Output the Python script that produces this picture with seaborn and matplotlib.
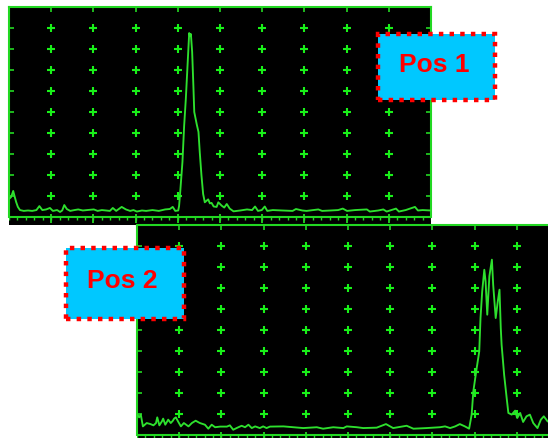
import numpy as np
import matplotlib
matplotlib.use("Agg")
import matplotlib.pyplot as plt
import matplotlib.patches as patches
import seaborn as sns
import pandas as pd

# A-scan traces: x = % of screen width, y = % of screen height
pos1_x = [0.0, 0.5, 1.0, 1.3, 1.7, 2.1, 2.6, 3.5, 4.5, 5.5,
          6.5, 7.2, 7.9, 8.8, 9.7, 10.4, 11.4, 12.1, 12.6, 13.1,
          13.7, 14.5, 15.5, 16.4, 17.5, 18.5, 20.1, 21.0, 22.0, 23.0,
          23.9, 24.6, 25.4, 26.7, 27.7, 28.7, 29.5, 30.3, 31.5, 32.5,
          34.0, 35.5, 37.0, 38.1, 38.8, 39.4, 40.1, 40.3, 40.5, 41.1,
          41.5, 41.9, 42.3, 42.7, 42.9, 43.1, 43.4, 43.7, 43.9, 44.5,
          44.9, 45.2, 45.6, 46.0, 46.4, 47.2, 47.6, 48.0, 48.5, 49.2,
          49.6, 50.4, 51.0, 51.6, 52.3, 53.2, 54.8, 56.4, 57.6, 58.3,
          59.0, 59.9, 60.6, 61.2, 62.5, 64.8, 67.2, 68.0, 69.5, 70.5,
          73.3, 74.2, 76.2, 78.0, 79.1, 80.1, 82.0, 84.8, 85.5, 87.5,
          88.7, 89.5, 91.7, 92.4, 94.0, 96.2, 96.9, 98.0, 100.0]
pos1_y = [8.6, 9.5, 12.4, 10.0, 7.1, 4.8, 3.3, 2.9, 3.1, 2.9,
          3.3, 5.2, 3.3, 3.6, 4.3, 2.9, 3.3, 2.4, 3.1, 5.7,
          3.8, 2.9, 3.3, 3.6, 3.1, 3.3, 3.6, 2.9, 3.3, 3.1,
          2.9, 4.3, 2.9, 4.8, 3.6, 2.9, 3.3, 2.6, 3.1, 2.9,
          3.3, 2.9, 3.6, 3.8, 4.8, 2.9, 3.1, 5.2, 10.0, 26.2,
          43.3, 56.2, 71.9, 87.6, 86.2, 87.1, 78.6, 62.0, 50.0, 44.0,
          40.5, 31.0, 20.0, 11.0, 7.0, 8.4, 6.5, 6.7, 5.0, 4.8,
          7.0, 5.4, 4.5, 6.2, 4.0, 2.7, 3.1, 3.6, 3.3, 5.0,
          2.9, 3.3, 5.0, 2.9, 3.3, 3.1, 2.9, 3.8, 3.1, 2.9,
          3.6, 2.9, 3.1, 3.3, 4.0, 2.9, 3.3, 3.6, 2.6, 3.1,
          3.6, 2.6, 4.0, 2.6, 3.3, 4.8, 3.1, 3.3, 3.1]

pos2_x = [0.1, 0.5, 0.9, 1.4, 2.3, 3.2, 3.9, 4.5, 4.8, 5.3,
          5.9, 6.2, 6.7, 7.4, 8.0, 8.5, 8.8, 9.2, 9.8, 10.4,
          11.1, 12.2, 13.0, 13.9, 14.9, 16.1, 16.9, 17.7, 18.5, 19.7,
          21.3, 22.0, 22.8, 23.6, 24.8, 25.6, 26.4, 27.2, 28.0, 29.1,
          29.9, 30.7, 31.5, 34.7, 39.4, 42.6, 44.1, 46.5, 48.9, 49.7,
          52.1, 53.6, 56.8, 59.0, 60.7, 63.9, 65.5, 68.6, 71.8, 73.0,
          74.2, 75.4, 76.5, 77.7, 78.7, 79.3, 79.7, 80.5, 81.1, 81.4,
          81.8, 82.3, 82.6, 83.0, 83.5, 84.1, 84.4, 85.0, 85.5, 85.9,
          86.2, 86.4, 87.0, 87.6, 88.0, 88.8, 89.6, 90.1, 90.8, 91.5,
          92.3, 93.1, 93.9, 94.9, 95.7, 96.4, 97.3, 98.5, 100.0]
pos2_y = [9.7, 8.4, 9.7, 4.1, 5.7, 5.2, 4.6, 5.7, 8.4, 4.6,
          6.5, 7.8, 4.9, 7.3, 5.7, 6.8, 7.8, 8.4, 6.2, 4.1,
          5.7, 4.1, 5.7, 6.8, 5.7, 4.9, 3.0, 4.9, 3.7, 4.0,
          4.0, 4.6, 2.5, 3.3, 4.4, 3.7, 4.9, 3.3, 4.1, 3.3,
          4.1, 3.3, 4.0, 4.1, 3.3, 3.7, 3.0, 3.7, 3.3, 4.1,
          3.7, 3.3, 3.5, 5.2, 3.3, 4.4, 3.0, 3.3, 3.7, 4.1,
          3.3, 4.1, 5.2, 4.1, 3.0, 9.7, 20.8, 31.9, 39.8, 55.7,
          68.4, 78.7, 73.2, 57.3, 75.6, 83.5, 71.6, 55.7, 63.7, 69.2,
          51.0, 43.0, 28.7, 17.6, 10.5, 9.7, 11.6, 8.1, 10.5, 6.2,
          8.9, 9.7, 5.7, 3.3, 7.3, 8.9, 6.5, 5.5, 5.0]

labels = ["Pos 1", "Pos 2"]

TRACE = "#2ee02e"
GRID = "#19f019"
FRAME = "#22d822"

sns.set_theme(style="white")
plt.rcParams['font.family'] = ['Liberation Sans', 'DejaVu Sans']

W, H = 548, 439
fig = plt.figure(figsize=(W / 100, H / 100), dpi=100)
fig.patch.set_facecolor("white")


def px_axes(left, top, w, h):
    return fig.add_axes([left / W, 1 - (top + h) / H, w / W, h / H])


def draw_screen(ax, x, y):
    ax.set_facecolor("black")
    # crosses on the interior graticule points
    grid = pd.DataFrame([(gx, gy) for gx in range(10, 100, 10) for gy in range(10, 100, 10)],
                        columns=["gx", "gy"])
    sns.scatterplot(data=grid, x="gx", y="gy", marker="+", s=34, color=GRID,
                    linewidth=1.5, ax=ax, legend=False, zorder=2)
    # ruler under the screen
    ax.axhline(0, color=FRAME, lw=1.5, zorder=3)
    ax.vlines(np.arange(0, 101, 2), -1.4, 0, color=FRAME, lw=1.0, zorder=3)
    ax.vlines(np.arange(10, 100, 10), -3.0, 1.5, color=FRAME, lw=1.3, zorder=3)
    sns.lineplot(x=x, y=y, ax=ax, color=TRACE, lw=1.35, estimator=None, sort=False, zorder=4)
    ax.set_xlim(0, 100)
    ax.set_ylim(-8 / 2.1, 100)
    ax.set_xticks(range(0, 101, 10))
    ax.set_yticks(range(0, 101, 10))
    ax.tick_params(direction="in", length=3.5, width=1.2, color=FRAME,
                   top=True, right=True, bottom=False, left=True,
                   labelleft=False, labelbottom=False)
    ax.set_xlabel("")
    ax.set_ylabel("")
    for side in ["left", "right", "top"]:
        ax.spines[side].set_color(FRAME)
        ax.spines[side].set_linewidth(1.5)
        ax.spines[side].set_visible(True)
    ax.spines["left"].set_bounds(0, 100)
    ax.spines["right"].set_bounds(0, 100)
    ax.spines["bottom"].set_visible(False)


ax1 = px_axes(9, 8, 422, 218)
ax2 = px_axes(137, 226, 422, 218)
ax2.set_zorder(1)
draw_screen(ax1, pos1_x, pos1_y)
draw_screen(ax2, pos2_x, pos2_y)

# label boxes with dotted red frame
boxes = [(378, 35, 117, 66, 434, 72), (66, 249, 118, 71, 122, 288)]
for text, (bx, by, bw, bh, tx, ty) in zip(labels, boxes):
    rect = patches.Rectangle((bx / W, 1 - (by + bh) / H), bw / W, bh / H,
                             transform=fig.transFigure, facecolor="#00c8ff",
                             edgecolor="#ff0000", lw=3.2, linestyle=(0, (1, 1.4)),
                             zorder=5)
    rect.set_capstyle("butt")
    fig.patches.append(rect)
    fig.text(tx / W, 1 - ty / H, text, ha="center", va="baseline", color="#ff0000",
             fontsize=19, fontweight="bold", zorder=6)

fig.savefig("out.png", dpi=100)
